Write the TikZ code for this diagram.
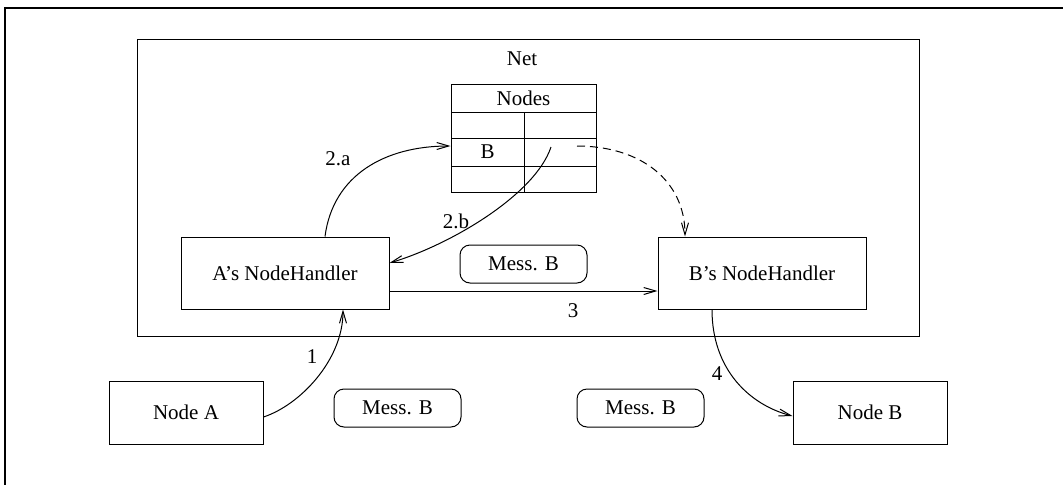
\documentclass[tikz,border=0pt]{standalone}
\usepackage{fontspec}
\setmainfont{Liberation Serif}
\usetikzlibrary{arrows.meta}
\begin{document}
\begin{tikzpicture}[x=1pt,y=-1pt,
  thin line/.style={line width=1pt},
  box/.style={draw,thin line,rectangle,inner sep=0pt},
  handler/.style={box,minimum width=208pt,minimum height=72pt},
  endpoint/.style={box,minimum width=154pt,minimum height=63pt},
  message/.style={box,rounded corners=10pt,minimum width=127pt,minimum height=38pt},
  label/.style={inner sep=0pt},
  link/.style={thin line,-{Straight Barb[length=12pt,width=7pt]}},
  font=\fontsize{21}{25}\selectfont]
\useasboundingbox (0,0) rectangle (1063,485);

% frame
\draw[line width=1.5pt] (1063,8) -- (5,8) -- (5,485);

% network box
\node[box,minimum width=782pt,minimum height=297pt] (net) at (528,187.5) {};
\node[label] (netlabel) at (522,59) {Net};

% node table
\node[box,minimum width=145pt,minimum height=108pt] (table) at (523.5,138) {};
\draw[thin line] (451,112) -- (596,112)
                 (451,138) -- (596,138)
                 (451,166) -- (596,166)
                 (524,112) -- (524,192);
\node[label] (nodestitle) at (523.5,98) {Nodes};
\node[label] (entryb) at (487.5,152) {B};

% handlers and end nodes
\node[handler] (anh) at (285,273) {A’s NodeHandler};
\node[handler] (bnh) at (762,273) {B’s NodeHandler};
\node[endpoint] (nodea) at (186,412.5) {Node A};
\node[endpoint] (nodeb) at (870,412.5) {Node B};

% messages
\node[message] (mess1) at (523.5,264) {Mess. B};
\node[message] (mess2) at (397.5,408) {Mess. B};
\node[message] (mess3) at (640.5,408) {Mess. B};

% lookup pointers inside the table
\coordinate (ptr) at (551,147);
\coordinate (dptr) at (577,146);

% connectors
\draw[link] ([yshift=-4.5pt]nodea.east)
  .. controls (300,405) and (343,360) .. ([xshift=58pt]anh.south);
\draw[link] ([xshift=40pt]anh.north)
  .. controls (333,175) and (385,146) .. ([yshift=-8pt]table.west);
\draw[link] (ptr)
  .. controls (535,195) and (450,245) .. ([yshift=10pt]anh.east);
\draw[link,dash pattern=on 8pt off 5pt] (dptr)
  .. controls (640,146) and (685,180) .. ([xshift=-77pt]bnh.north);
\draw[link] ([yshift=-18pt]anh.east) -- ([yshift=-18pt]bnh.west);
\draw[link] ([xshift=-50pt]bnh.south)
  .. controls (712,370) and (750,405) .. ([yshift=-3.5pt]nodeb.west);

% step labels
\node[label] (l1) at (312,357) {1};
\node[label] (l2a) at (338,159) {2.a};
\node[label] (l2b) at (456,221) {2.b};
\node[label] (l3) at (573,311) {3};
\node[label] (l4) at (717,374) {4};
\end{tikzpicture}
\end{document}
